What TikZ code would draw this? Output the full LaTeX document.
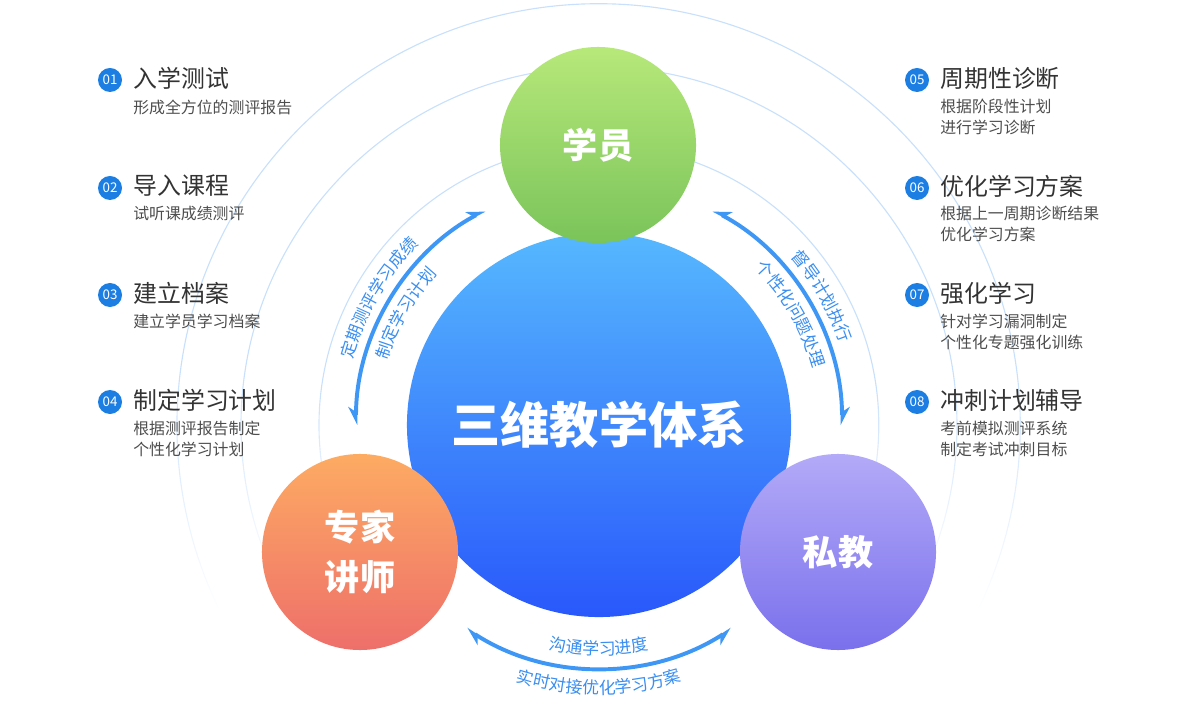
\documentclass[tikz,border=0pt]{standalone}
\usepackage{fontspec}
\setmainfont{Noto Sans CJK SC}
\usetikzlibrary{arrows.meta,decorations.text,fadings}
\definecolor{ringblue}{RGB}{200,224,251}
\definecolor{arrowblue}{RGB}{63,151,245}
\definecolor{arctext}{RGB}{58,142,240}
\definecolor{badgeblue}{RGB}{28,126,226}
\definecolor{titlegray}{RGB}{51,51,51}
\definecolor{subgray}{RGB}{77,77,77}
\definecolor{mainTop}{RGB}{86,184,254}
\definecolor{mainBot}{RGB}{41,88,251}
\definecolor{stuTop}{RGB}{183,232,122}
\definecolor{stuBot}{RGB}{122,196,90}
\definecolor{expTop}{RGB}{253,171,99}
\definecolor{expBot}{RGB}{238,111,106}
\definecolor{tutTop}{RGB}{179,170,248}
\definecolor{tutBot}{RGB}{122,112,236}
% rings fade out below the middle (fading box is 2cm high)
\pgfdeclareverticalshading{ringshade}{57bp}{color(0bp)=(pgftransparent); color(17.5bp)=(pgftransparent); color(32bp)=(pgftransparent!0); color(57bp)=(pgftransparent!0)}
\pgfdeclarefading{ringfade}{\pgfuseshading{ringshade}}
\newcommand{\arcfont}{\fontsize{12}{12}\selectfont}

\begin{document}
\begin{tikzpicture}[x=0.025cm, y=0.025cm,
    ring/.style={draw=ringblue, line width=0.8pt, path fading=ringfade},
    flow/.style={line width=2.8pt, draw=arrowblue, {Stealth[harpoon,swap,length=11pt,width=11pt]}-{Stealth[harpoon,length=11pt,width=11pt]}},
    badge/.style={circle, fill=badgeblue, minimum size=0.6cm, inner sep=0pt, text=white, font=\fontsize{9.5}{9.5}\selectfont},
    title/.style={anchor=west, inner sep=0pt, text=titlegray, font=\fontsize{17}{17}\selectfont},
    sub/.style={anchor=west, inner sep=0pt, text=subgray, align=left, font=\fontsize{11.3}{14.9}\selectfont},
    ball/.style={circle, minimum size=4.9cm, inner sep=0pt, text=white, align=center, font=\fontsize{25}{36}\selectfont\bfseries},
    arclabel/.style={decorate, decoration={text along path, text align=center, text color=arctext}}
]
    \useasboundingbox (0,0) rectangle (1200,705);
    \coordinate (C) at (599,280);

    % Faint rings
    \draw[ring] (C) circle[radius=280];
    \draw[ring] (C) circle[radius=358];
    \draw[ring] (C) circle[radius=422];

    % Arrows round the core
    \draw[flow] ([shift={(180:243)}]C) arc[start angle=180, end angle=118, radius=243];
    \draw[flow] ([shift={(62:243)}]C) arc[start angle=62, end angle=0, radius=243];
    \draw[flow] ([shift={(303:243)}]C) arc[start angle=303, end angle=237, radius=243];

    % Arc labels
    \path[arclabel, decoration={text={|\arcfont|定期测评学习成绩}}] ([shift={(185:255)}]C) arc[start angle=185, end angle=115, radius=255];
    \path[arclabel, decoration={text={|\arcfont|制定学习计划}}] ([shift={(185:221)}]C) arc[start angle=185, end angle=115, radius=221];
    \path[arclabel, decoration={text={|\arcfont|督导计划执行}}] ([shift={(65:255)}]C) arc[start angle=65, end angle=-5, radius=255];
    \path[arclabel, decoration={text={|\arcfont|个性化问题处理}}] ([shift={(65:221)}]C) arc[start angle=65, end angle=-5, radius=221];
    \path[arclabel, decoration={text={|\arcfont|沟通学习进度}}] ([shift={(230:230)}]C) arc[start angle=230, end angle=310, radius=230];
    \path[arclabel, decoration={text={|\arcfont|实时对接优化学习方案}}] ([shift={(230:269)}]C) arc[start angle=230, end angle=310, radius=269];

    % Core and the three parties
    \node[ball, minimum size=9.6cm, top color=mainTop, bottom color=mainBot, font=\fontsize{35}{35}\selectfont\bfseries] (core) at (C) {三维教学体系};
    \node[ball, top color=stuTop, bottom color=stuBot] (student) at (598,560) {学员};
    \node[ball, top color=expTop, bottom color=expBot] (expert) at (360,153) {专家\\讲师};
    \node[ball, top color=tutTop, bottom color=tutBot] (tutor) at (838,153) {私教};

    % Left steps
    \node[badge] (n1) at (110,625) {01};
    \node[title] (t1) at (133,627) {入学测试};
    \node[sub] (s1) at (133,598) {形成全方位的测评报告};
    \node[badge] (n2) at (110,517) {02};
    \node[title] (t2) at (133,519) {导入课程};
    \node[sub] (s2) at (133,491) {试听课成绩测评};
    \node[badge] (n3) at (110,410) {03};
    \node[title] (t3) at (133,412) {建立档案};
    \node[sub] (s3) at (133,384) {建立学员学习档案};
    \node[badge] (n4) at (110,303) {04};
    \node[title] (t4) at (133,305) {制定学习计划};
    \node[sub] (s4) at (133,266.5) {根据测评报告制定\\个性化学习计划};

    % Right steps
    \node[badge] (n5) at (917,625) {05};
    \node[title] (t5) at (940,627) {周期性诊断};
    \node[sub] (s5) at (940,588.5) {根据阶段性计划\\进行学习诊断};
    \node[badge] (n6) at (917,517) {06};
    \node[title] (t6) at (940,519) {优化学习方案};
    \node[sub] (s6) at (940,481) {根据上一周期诊断结果\\优化学习方案};
    \node[badge] (n7) at (917,410) {07};
    \node[title] (t7) at (940,412) {强化学习};
    \node[sub] (s7) at (940,373.5) {针对学习漏洞制定\\个性化专题强化训练};
    \node[badge] (n8) at (917,303) {08};
    \node[title] (t8) at (940,305) {冲刺计划辅导};
    \node[sub] (s8) at (940,266.5) {考前模拟测评系统\\制定考试冲刺目标};
\end{tikzpicture}
\end{document}
